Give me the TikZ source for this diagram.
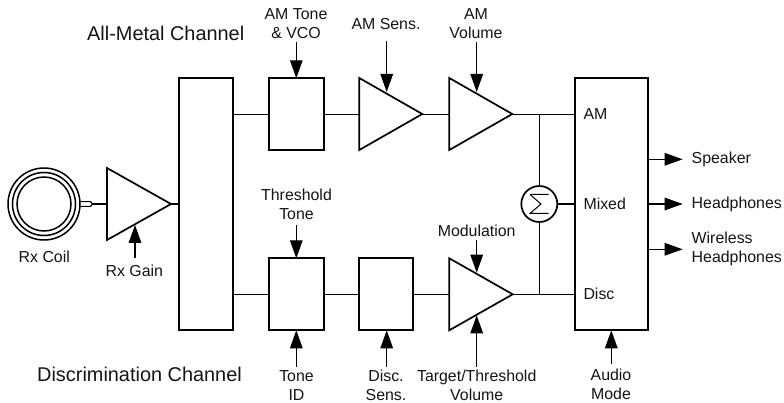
\documentclass[tikz,border=0pt]{standalone}
\usepackage{fontspec}
\setmainfont{Liberation Sans}
\usetikzlibrary{arrows.meta}
\tikzset{
  ln/.style={line width=1.3pt,black},
  arr/.style={line width=1.3pt,black,-{Triangle[length=18pt,width=12.5pt]}},
  heavy/.style={draw,line width=1.7pt,fill=white,line join=miter},
  blk/.style={heavy,inner sep=0pt,outer sep=0pt,anchor=north west},
  lbl/.style={font=\fontsize{15.9pt}{19pt}\selectfont,align=center,inner sep=0pt,text=black!92},
  lbll/.style={lbl,align=left,anchor=west},
  ttl/.style={font=\fontsize{19.9pt}{22pt}\selectfont,inner sep=0pt,anchor=west,text=black!92},
  ring/.style={draw,circle,line width=1.5pt,inner sep=0pt,outer sep=0pt}
}
% \ampl{name}{left x}{centre y}{half height}{width}
\newcommand{\ampl}[5]{%
  \coordinate (#1-a) at (#2,#3-#4);
  \coordinate (#1-b) at (#2,#3+#4);
  \coordinate (#1-in) at (#2,#3);
  \coordinate (#1-out) at (#2+#5,#3);
  \draw[line width=1.7pt,fill=white,line join=miter] (#1-a) -- (#1-out) -- (#1-b) -- cycle;
}
\begin{document}
\begin{tikzpicture}[x=1pt,y=-1pt]
\useasboundingbox (0,0) rectangle (784,403);
\node[ttl] (t1) at (87,33) {All-Metal Channel};
\node[ttl] (t2) at (37,374) {Discrimination Channel};
% coil
\node[ring,minimum size=72pt] (c1) at (44,204) {};
\node[ring,minimum size=63pt] (c2) at (44,204) {};
\node[ring,minimum size=54pt] (c3) at (44,204) {};
\coordinate (tail) at (92,204);
\draw[line width=1.1pt,rounded corners=2pt] (80.5,201.6) -- (92,201.6) -- (92,206.4) -- (80.5,206.4);
% blocks
\node[blk,minimum width=54pt,minimum height=252pt] (mix) at (179.3,78.3) {};
\node[blk,minimum width=54.4pt,minimum height=72pt] (tone) at (269.3,78.3) {};
\node[blk,minimum width=54.4pt,minimum height=72pt] (thr) at (269.3,258.3) {};
\node[blk,minimum width=54pt,minimum height=72pt] (disc) at (359.3,258.3) {};
\node[blk,minimum width=72.4pt,minimum height=252pt] (out) at (575.3,78.3) {};
\node[draw,circle,line width=1.7pt,minimum size=36pt,inner sep=0pt,outer sep=0pt] (sum) at (539.3,204) {};
\draw[line width=1pt] (530,194.5) -- (548.5,194.5) (530,194.5) -- (541,204) -- (530,213.5) -- (548.5,213.5);
% amplifiers
\ampl{rx}{107}{204}{36}{64}
\ampl{as}{359.3}{114}{36}{63}
\ampl{av}{449.3}{114}{36}{63}
\ampl{tv}{449.3}{294.3}{36}{63.4}
% signal path
\coordinate (mixt) at (233.3,114.2);
\coordinate (mixb) at (233.3,294.3);
\coordinate (jt) at (539.3,114.2);
\coordinate (jb) at (539.3,294.3);
\draw[ln] (tail) -- (rx-in);
\draw[ln] (rx-out) -- (rx-out -| mix.west);
\draw[ln] (mixt) -- (tone.west |- mixt);
\draw[ln] (tone.east |- mixt) -- (as-in |- mixt);
\draw[ln] (as-out |- mixt) -- (av-in |- mixt);
\draw[ln] (av-out |- mixt) -- (out.west |- mixt);
\draw[ln] (mixb) -- (thr.west |- mixb);
\draw[ln] (thr.east |- mixb) -- (disc.west |- mixb);
\draw[ln] (disc.east |- mixb) -- (tv-in |- mixb);
\draw[ln] (tv-out |- mixb) -- (out.west |- mixb);
\draw[ln] (jt) -- (sum.north);
\draw[ln] (jb) -- (sum.south);
\draw[ln] (sum.east) -- (sum.east -| out.west);
% control labels
\node[lbl] (l1) at (296,24) {AM Tone\\\& VCO};
\node[lbl] (l2) at (386,23.7) {AM Sens.};
\node[lbl] (l3) at (476,24) {AM\\Volume};
\node[lbl] (l4) at (296.5,204) {Threshold\\Tone};
\node[lbl] (l5) at (296.5,385.5) {Tone\\ID};
\node[lbl] (l6) at (386,385.5) {Disc.\\Sens.};
\node[lbl] (l7) at (476.7,230.7) {Modulation};
\node[lbl] (l8) at (476.7,385.5) {Target/Threshold\\Volume};
\node[lbl] (l9) at (611,384) {Audio\\Mode};
\node[lbl] (l10) at (44.3,257) {Rx Coil};
\node[lbl] (l11) at (134.3,270.7) {Rx Gain};
\node[lbll] (p1) at (583.3,114) {AM};
\node[lbll] (p2) at (583.3,204) {Mixed};
\node[lbll] (p3) at (583.3,294) {Disc};
\node[lbll] (o1) at (691.5,159.3) {Speaker};
\node[lbll] (o2) at (691.5,204) {Headphones};
\node[lbll] (o3) at (691.5,248.5) {Wireless\\Headphones};
% control arrows
\coordinate (a1) at (296.3,42); \draw[arr] (a1) -- (a1 |- tone.north);
\coordinate (a2) at (386.7,41); \draw[arr] (a2) -- (386.7,92);
\coordinate (a3) at (476.7,42); \draw[arr] (a3) -- (476.7,92);
\coordinate (a4) at (296.3,225); \draw[arr] (a4) -- (a4 |- thr.north);
\coordinate (a5) at (296.3,366.7); \draw[arr] (a5) -- (a5 |- thr.south);
\coordinate (a6) at (386.7,366.7); \draw[arr] (a6) -- (a6 |- disc.south);
\coordinate (a7) at (476.7,240); \draw[arr] (a7) -- (476.7,272.7);
\coordinate (a8) at (476.7,366.7); \draw[arr] (a8) -- (476.7,315.3);
\coordinate (a9) at (611.3,364); \draw[arr] (a9) -- (a9 |- out.south);
\coordinate (a10) at (135,258); \draw[arr] (a10) -- (135,225);
% outputs
\coordinate (e1) at (682.7,159.3); \draw[arr] (e1 -| out.east) -- (e1);
\coordinate (e2) at (682.7,204); \draw[arr] (e2 -| out.east) -- (e2);
\coordinate (e3) at (682.7,249.3); \draw[arr] (e3 -| out.east) -- (e3);
\end{tikzpicture}
\end{document}
